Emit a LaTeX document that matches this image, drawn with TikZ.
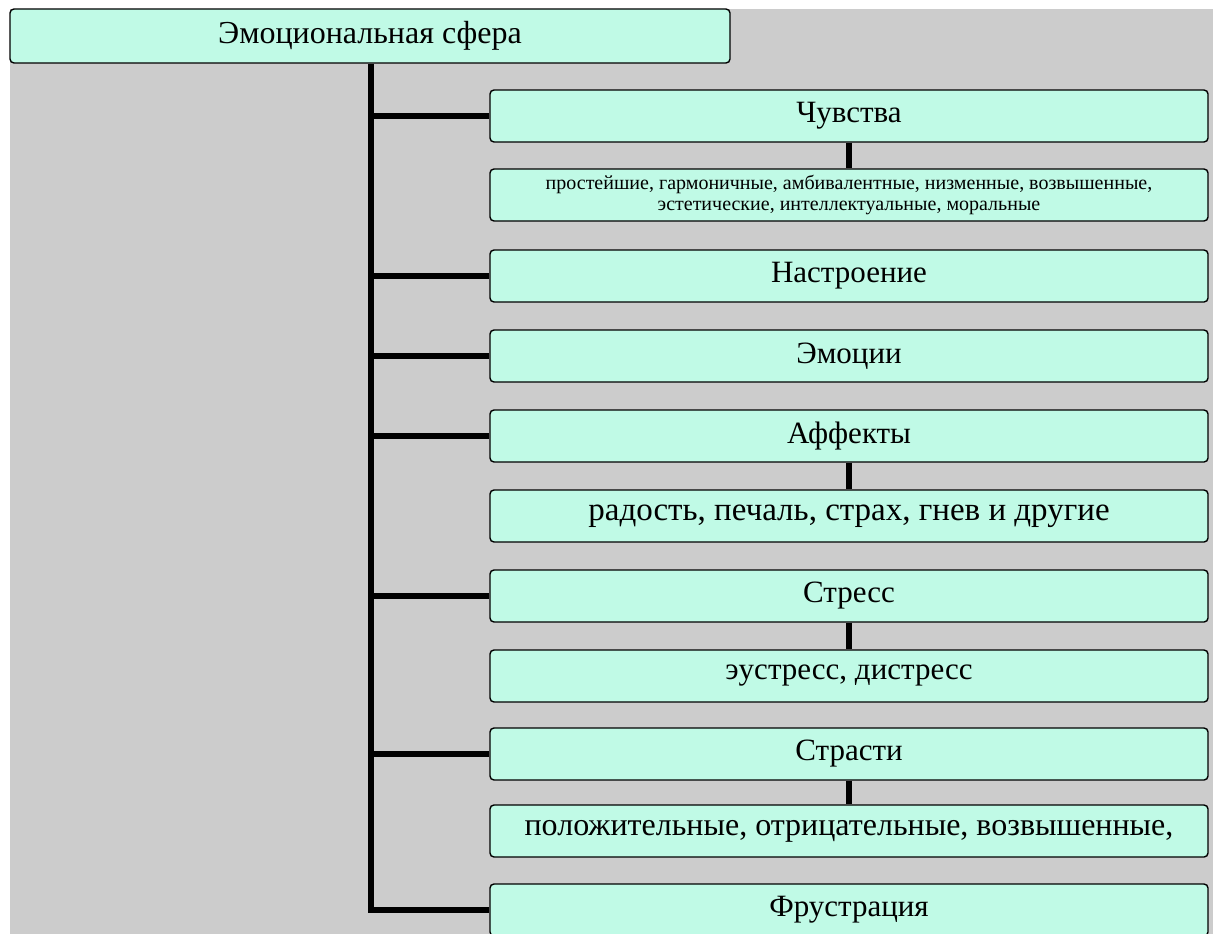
\documentclass[tikz,border=0pt]{standalone}
\usepackage{fontspec}
\setmainfont{Liberation Serif}
\definecolor{bggray}{RGB}{204,204,204}
\definecolor{mint}{RGB}{192,250,230}
\tikzset{
  box/.style={draw=black, line width=1.4pt, fill=mint, rounded corners=4pt,
    minimum width=718pt, minimum height=52pt, inner sep=0pt, font=\fontsize{31}{33}\selectfont},
  small/.style={font=\fontsize{20}{21}\selectfont, align=center},
  link/.style={line width=6pt}
}
\begin{document}
\begin{tikzpicture}[x=1pt, y=-1pt]
        \useasboundingbox (0, 0) rectangle (1213, 934);
        \clip (0, 0) rectangle (1213, 934);
        \fill[bggray] (10, 9) rectangle (1213, 934);

        \node[box, minimum width=720pt, minimum height=54pt, font=\fontsize{32}{34}\selectfont] (sfera) at (370, 36) {Эмоциональная сфера};

        \node[box] (chuvstva) at (849, 116) {Чувства};
        \node[box, small] (chuvstvavid) at (849, 195) {простейшие, гармоничные, амбивалентные, низменные, возвышенные,\\эстетические, интеллектуальные, моральные};
        \node[box] (nastroenie) at (849, 276) {Настроение};
        \node[box] (emocii) at (849, 356) {Эмоции};
        \node[box] (affekty) at (849, 436) {Аффекты};
        \node[box, font=\fontsize{33}{35}\selectfont] (affektyvid) at (849, 516) {радость, печаль, страх, гнев и другие};
        \node[box] (stress) at (849, 596) {Стресс};
        \node[box] (stressvid) at (849, 676) {эустресс, дистресс};
        \node[box] (strasti) at (849, 754) {Страсти};
        \node[box, font=\fontsize{32}{34}\selectfont] (strastivid) at (849, 831) {положительные, отрицательные, возвышенные,};
        \node[box] (frustr) at (849, 910) {Фрустрация};

        % ствол
        \coordinate (top) at (371, 36);
        \draw[link] (top |- sfera.south) -- (top |- frustr.west) -- (frustr.west);
        \foreach \n in {chuvstva, nastroenie, emocii, affekty, stress, strasti}
          \draw[link] (top |- \n.west) -- (\n.west);

        \draw[link] (chuvstva) -- (chuvstvavid);
        \draw[link] (affekty) -- (affektyvid);
        \draw[link] (stress) -- (stressvid);
        \draw[link] (strasti) -- (strastivid);
      \end{tikzpicture}
\end{document}
